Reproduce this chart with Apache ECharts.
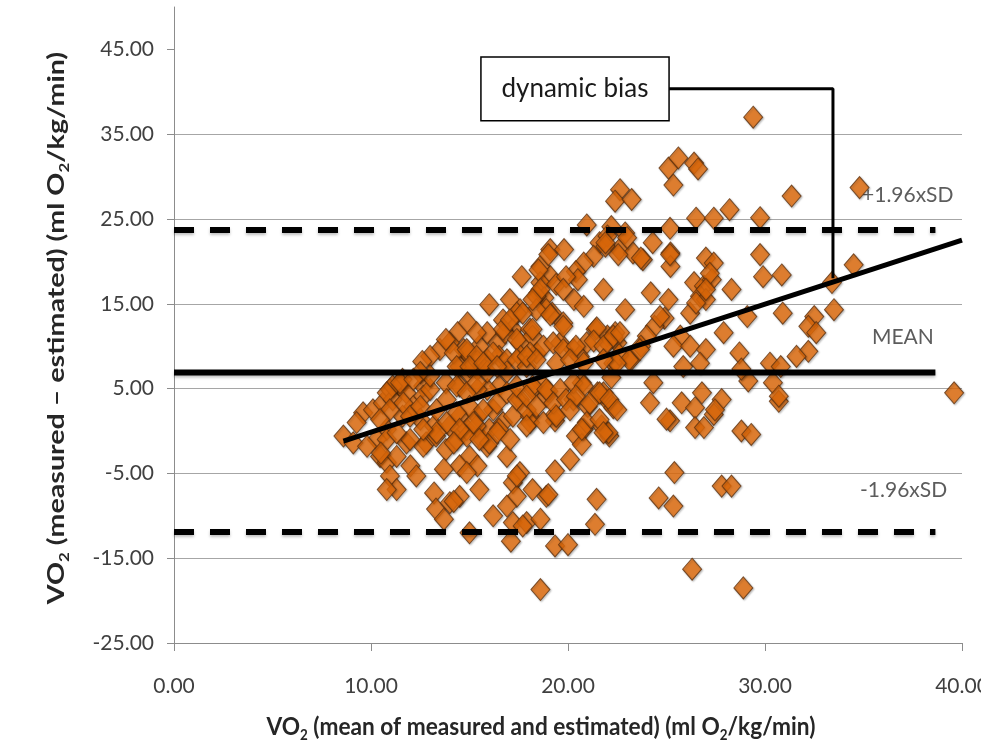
<!DOCTYPE html>
<html><head><meta charset="utf-8">
<script src="https://cdn.jsdelivr.net/npm/echarts@6/dist/echarts.min.js"></script>
<style>html,body{margin:0;padding:0;background:#fff}#c{width:981px;height:747px}</style>
</head><body><div id="c"></div>
<script>
// [mean of measured and estimated, measured - estimated]
const ptsUpper = [[29.4,37.0],[34.8,28.7],[31.35,27.7],[25.1,31.0],[25.6,32.2],[26.4,31.6],[26.6,30.9],[25.35,29.0],[22.64,28.45],[22.39,27.1],[23.23,27.3],[28.2,26.1],[26.5,25.1],[27.4,25.1],[29.75,25.15],[20.95,24.3],[25.18,23.9],[22.2,24.1],[22.9,23.35],[24.3,22.2],[25.2,21.0],[25.2,19.4],[29.75,20.8],[27.0,20.4],[27.4,19.8],[19.1,21.4],[19.8,21.4],[21.6,22.2],[22.0,23.0],[22.6,21.4],[23.3,21.0],[23.8,20.2],[21.3,20.6],[20.8,19.8],[20.4,18.8],[17.65,18.2],[18.6,19.4],[19.1,18.2],[18.6,17.5],[29.9,18.2],[30.85,18.4],[34.5,19.6],[33.4,17.5],[33.5,14.3],[32.5,13.5],[32.2,12.35],[32.6,11.6],[32.2,9.4],[30.9,13.9],[29.1,13.5],[28.3,16.7],[27.9,11.6],[28.7,9.2],[30.25,8.0],[30.8,7.6],[24.2,16.3],[25.1,15.5],[21.8,16.7],[22.9,14.3]];
const ptsMidLeft = [[21.9,21.8],[20.5,17.85],[19.0,20.8],[18.5,19.0],[19.4,17.3],[19.9,18.2],[17.05,15.5],[16.0,14.9],[18.5,16.3],[18.8,15.7],[19.2,13.9],[19.76,12.75],[20.3,15.5],[20.8,14.7],[17.56,14.3],[16.7,13.1],[14.9,12.75],[14.4,11.6],[13.5,9.6],[13.0,8.8],[14.0,10.4],[15.5,10.0],[16.4,10.4],[17.2,12.0],[17.56,10.4],[18.4,9.2],[18.07,12.0],[19.6,10.4],[20.27,9.6],[20.95,10.4],[21.4,12.0],[22.0,11.2],[20.6,8.8],[22.5,10.4],[15.9,11.6],[16.8,11.6],[14.7,9.6],[16.5,8.8],[14.5,7.6],[15.4,7.25],[15.9,8.4],[12.65,5.3],[17.4,13.9],[18.4,15.9],[18.9,14.3],[13.8,10.8],[12.6,8.2],[16.2,9.2],[16.7,12.0],[17.4,10.8],[14.9,9.2],[15.4,8.2],[16.9,8.4],[17.6,8.8]];
const ptsLeftTail = [[8.6,-0.6],[9.1,-1.4],[9.6,2.15],[9.27,1.0],[10.1,2.5],[10.6,3.3],[10.96,4.9],[11.5,5.3],[11.1,3.7],[11.8,4.5],[12.15,2.9],[12.65,4.1],[13.0,4.9],[11.6,1.75],[12.5,1.4],[13.2,0.6],[10.8,0.2],[10.3,-1.0],[9.8,-1.8],[10.46,-3.0],[10.8,-3.7],[11.3,-3.0],[11.8,-1.4],[12.0,-4.1],[12.3,-5.3],[10.96,-5.3],[11.3,-6.9],[10.8,-6.9],[12.8,-1.4],[13.3,-0.6],[13.8,-2.2],[14.35,-1.0],[14.0,0.6],[14.5,1.75],[14.86,0.2],[15.4,1.75],[15.5,-0.6],[15.9,-1.8],[15.0,-3.0],[14.5,-4.1],[15.4,-4.1],[15.5,-6.9],[14.86,-4.9],[16.0,0.2],[16.7,1.0],[16.9,-3.0],[16.5,0.2],[16.2,2.5],[17.2,1.75],[17.56,3.7],[18.07,1.75],[17.56,-4.9],[17.2,-6.1],[17.4,-7.7],[18.2,-6.9],[16.9,-8.85],[16.2,-10.0],[17.2,-10.8],[17.9,-10.8],[13.2,-7.3],[13.3,-9.2],[14.0,-8.45],[14.5,-7.7],[15.0,-12.0],[18.9,-7.7],[18.6,5.7],[18.2,4.9],[18.9,4.1],[16.5,5.3],[15.9,4.9],[15.4,4.9],[14.5,5.3],[13.8,5.7],[13.0,6.5],[12.5,6.9],[11.6,6.1],[11.1,5.3],[14.9,7.0],[15.9,7.0],[16.9,7.0]];
const ptsLowLeft = [[10.8,-1.0],[12.65,-1.8],[13.7,-4.5],[14.86,-0.6],[15.36,0.6],[16.0,-1.4],[17.4,-5.3],[17.7,-11.2],[18.6,-10.4],[19.34,-4.7],[19.0,-7.5],[20.1,-3.35],[20.4,-0.6],[18.07,1.0],[19.34,1.2],[14.2,-8.3],[13.7,-10.4],[17.1,-13.0],[19.34,-13.56],[20.0,-13.4],[18.6,-18.7],[10.5,-2.6]];
const ptsLowRight = [[19.0,4.7],[19.34,1.95],[20.27,3.7],[20.7,5.7],[21.0,2.9],[21.5,4.5],[21.96,3.7],[22.3,2.75],[20.8,0.2],[21.7,0.6],[22.1,-0.6],[20.7,-1.6],[21.45,-8.06],[21.37,-11.0],[24.33,5.7],[24.16,3.33],[25.18,1.2],[25.77,3.33],[26.45,2.75],[26.8,4.5],[27.4,1.95],[27.8,3.7],[26.45,0.4],[26.9,0.4],[28.8,0.0],[29.3,-0.4],[29.15,5.9],[25.4,-4.9],[24.6,-7.9],[25.35,-8.85],[27.8,-6.5],[28.3,-6.5],[26.3,-16.3],[28.9,-18.5],[22.05,-0.2],[30.7,3.5],[39.6,4.5]];
const ptsMidRight = [[21.9,22.2],[22.55,20.8],[23.0,22.8],[23.7,20.4],[25.18,20.8],[26.4,17.5],[26.9,17.1],[27.3,17.85],[26.7,15.9],[27.0,15.5],[26.2,13.9],[24.9,13.3],[24.4,12.35],[22.4,11.6],[22.0,10.4],[24.0,11.2],[23.7,10.0],[25.7,11.2],[25.35,10.0],[26.2,10.0],[27.0,9.6],[23.2,8.4],[22.3,8.0],[22.6,9.0],[25.85,7.6],[26.7,8.0],[22.2,6.3],[30.4,5.7],[30.7,4.1],[27.46,2.5],[21.8,4.5],[31.6,8.8],[27.2,18.6],[27.0,16.7],[26.5,15.1],[24.67,13.5],[28.8,7.3]];
const ptsDenseLeft = [[18.4,14.3],[15.36,11.6],[17.05,13.1],[18.2,11.2],[18.07,9.2],[14.2,9.2],[14.86,9.6],[15.36,8.8],[14.35,7.6],[15.0,7.6],[15.7,8.0],[16.4,7.6],[17.4,8.4],[17.9,7.6],[10.8,4.5],[11.47,5.7],[12.15,6.1],[11.64,3.3],[10.96,2.5],[10.46,1.35],[11.98,1.75],[12.5,2.9],[13.33,2.5],[13.84,3.7],[14.35,5.3],[14.86,4.5],[15.36,5.7],[15.0,2.9],[14.35,2.15],[13.84,1.0],[13.33,-0.2],[14.5,0.2],[15.2,1.0],[15.7,2.5],[16.4,3.3],[16.9,4.5],[17.4,3.7],[17.9,2.5],[17.4,5.3],[16.4,-0.2],[15.5,-1.0],[14.2,-1.4],[12.65,0.2],[11.98,-1.0],[11.3,-0.2],[17.9,0.6],[17.06,-1.0],[18.2,5.3]];
const ptsDenseMid = [[19.76,16.7],[18.6,16.7],[18.2,15.5],[19.1,13.7],[19.76,12.35],[18.2,12.0],[18.75,10.0],[19.25,10.4],[19.76,9.6],[20.4,10.0],[21.46,12.16],[21.3,10.6],[21.8,10.0],[22.3,11.2],[22.64,11.6],[17.7,13.9],[17.9,8.8],[18.4,8.4],[19.4,8.0],[20.1,8.4],[20.8,8.0],[23.1,8.4],[23.65,9.6],[22.47,8.0],[21.8,8.4],[18.9,4.9],[19.6,4.9],[20.27,5.7],[20.8,5.3],[17.9,4.1],[18.4,2.9],[19.25,3.3],[19.9,3.7],[20.4,4.1],[21.1,3.3],[21.6,4.5],[22.1,3.7],[22.5,2.5],[18.75,1.0],[19.4,1.75],[20.1,2.5],[20.95,1.0],[21.6,1.35],[20.7,0.2],[21.8,-0.2],[25.0,1.4]];

const xTicks = [0, 10, 20, 30, 40];
const yTicks = [-25, -15, -5, 5, 15, 25, 35, 45];
const meanBias = 6.9, upperLoA = 23.7, lowerLoA = -11.9, refLineEnd = 38.65;
const regressionLine = [[8.6, -1.2], [40, 22.5]];
const refLabels = ['+1.96xSD', 'MEAN', '-1.96xSD'];
const refLabelAnchors = [[34.9, 27.85], [35.4, 11.0], [34.8, -7.0]];
const biasBoxCorners = [[15.58, 44.1], [25.13, 36.6]];
const biasConnector = [[25.13, 40.35], [33.45, 40.35], [33.45, 18.0]];
const yTitle = '{b|VO}{s|2}{b| (measured – estimated) (ml O}{s|2}{b|/kg/min)}';
const xTitle = '{b|VO}{s|2}{b| (mean of measured and estimated) (ml O}{s|2}{b|/kg/min)}';

const allPoints = [].concat(ptsUpper, ptsMidLeft, ptsLeftTail, ptsLowLeft, ptsLowRight, ptsMidRight, ptsDenseLeft, ptsDenseMid);
const FONT = 'Lato, "Open Sans", sans-serif';
const chart = echarts.init(document.getElementById('c'));

const titleRich = (big, small, lh) => ({
  b: { fontFamily: FONT, fontSize: big, fontWeight: 'bold', fill: '#262626', color: '#262626', lineHeight: lh },
  s: { fontFamily: FONT, fontSize: small, fontWeight: 'bold', fill: '#262626', color: '#262626', lineHeight: 10, verticalAlign: 'bottom' }
});

const hLine = (y, dashed) => ({
  type: 'line', silent: true, symbol: 'none', z: 4,
  data: [[0, y], [refLineEnd, y]],
  lineStyle: { color: '#000', width: 6, type: dashed ? [20, 16] : 'solid',
    shadowColor: 'rgba(0,0,0,0.25)', shadowBlur: 3, shadowOffsetY: 2 }
});

chart.setOption({
  animation: false,
  backgroundColor: '#fff',
  grid: { left: 174, right: 19, top: 7, bottom: 104, containLabel: false, outerBoundsMode: 'none' },
  graphic: [
    { type: 'text', x: 57, y: 328, rotation: Math.PI / 2, scaleX: 1.3, scaleY: 1, silent: true,
      style: { text: yTitle, rich: titleRich(22, 13, 28), align: 'center', verticalAlign: 'middle',
        textAlign: 'center', textVerticalAlign: 'middle' } },
    { type: 'text', x: 541, y: 727, scaleX: 1.03, scaleY: 1.15, silent: true,
      style: { text: xTitle, rich: titleRich(22, 13, 28), align: 'center', verticalAlign: 'middle',
        textAlign: 'center', textVerticalAlign: 'middle' } }
  ],
  xAxis: {
    type: 'value', min: 0, max: 40, interval: 10,
    axisLine: { show: true, onZero: false, lineStyle: { color: '#8c8c8c', width: 1 } },
    axisTick: { show: true, length: 8, lineStyle: { color: '#8c8c8c' } },
    axisLabel: { margin: 33, fontFamily: FONT, fontSize: 21, color: '#404040', formatter: v => v.toFixed(2) },
    splitLine: { show: false }
  },
  yAxis: {
    type: 'value', min: -25, max: 50, interval: 10,
    axisLine: { show: true, onZero: false, lineStyle: { color: '#8c8c8c', width: 1 } },
    axisTick: { show: true, length: 7, customValues: yTicks, lineStyle: { color: '#8c8c8c' } },
    axisLabel: { margin: 20, customValues: yTicks, fontFamily: FONT, fontSize: 21, color: '#404040',
      formatter: v => (v > 45 ? '' : v.toFixed(2)) },
    splitLine: { show: true, showMinLine: true, showMaxLine: false, lineStyle: { color: '#a6a6a6', width: 1 } }
  },
  series: [
    {
      type: 'scatter', silent: true, z: 1, symbolSize: 1,
      itemStyle: { color: 'rgba(0,0,0,0)' },
      data: refLabelAnchors.map((p, i) => ({ value: p, name: refLabels[i] })),
      label: { show: true, position: 'right', distance: 0, formatter: '{b}',
        fontFamily: FONT, fontSize: 21, color: '#333' }
    },
    {
      type: 'scatter', silent: true, z: 2, symbol: 'diamond', symbolSize: [19, 22],
      itemStyle: { color: '#E36C0A', borderColor: '#5E3210', borderWidth: 1,
        shadowColor: 'rgba(0,0,0,0.3)', shadowBlur: 2, shadowOffsetX: 1, shadowOffsetY: 1 },
      data: allPoints
    },
    hLine(upperLoA, true),
    hLine(lowerLoA, true),
    hLine(meanBias, false),
    {
      type: 'line', silent: true, symbol: 'none', z: 5, data: regressionLine,
      lineStyle: { color: '#000', width: 5 }
    },
    {
      type: 'line', silent: true, symbol: 'none', z: 6, data: biasConnector,
      lineStyle: { color: '#000', width: 3 },
      markArea: {
        silent: true,
        itemStyle: { color: '#fff', borderColor: '#000', borderWidth: 1.5, opacity: 1 },
        label: { show: true, position: 'inside', formatter: 'dynamic bias',
          fontFamily: FONT, fontSize: 26, color: '#1a1a1a' },
        data: [[{ coord: biasBoxCorners[0] }, { coord: biasBoxCorners[1] }]]
      }
    }
  ]
});
</script></body></html>
